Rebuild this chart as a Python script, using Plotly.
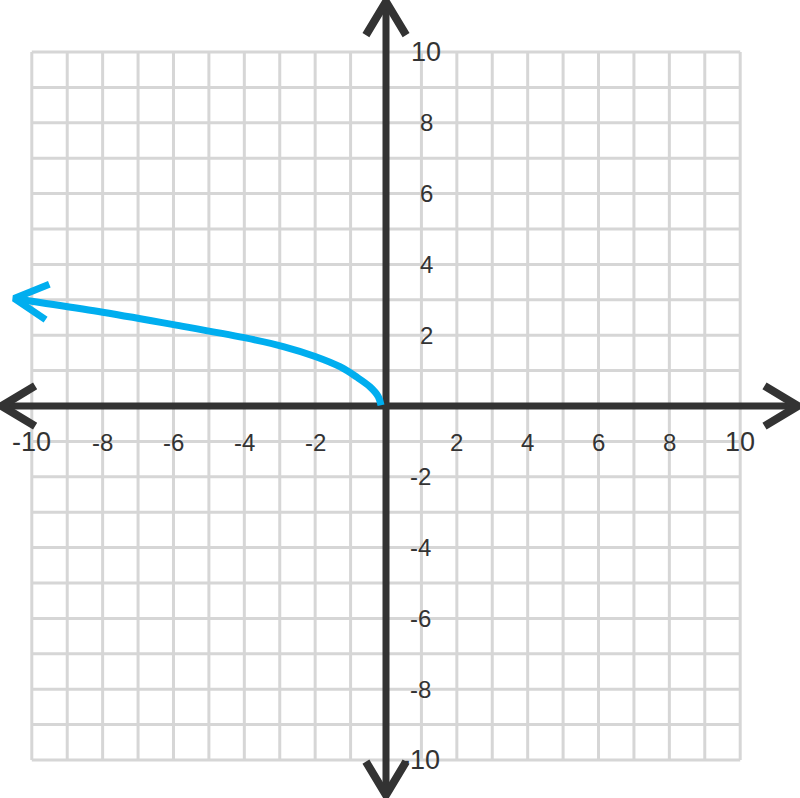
import math
import plotly.graph_objects as go

# grid / tick values
grid_ticks = [-10, -9, -8, -7, -6, -5, -4, -3, -2, -1, 0, 1, 2, 3, 4, 5, 6, 7, 8, 9, 10]
label_ticks = [-10, -8, -6, -4, -2, 2, 4, 6, 8, 10]
tick_text = ["-10", "-8", "-6", "-4", "-2", "2", "4", "6", "8", "10"]

# blue curve (ends in an arrow at the left)
curve_x = [-0.14, -0.22, -0.45, -0.83, -1.30, -2.0, -2.9, -4.0, -6.0, -8.0, -10.0, -10.5]
curve_y = [0.02, 0.27, 0.54, 0.82, 1.11, 1.40, 1.68, 1.93, 2.30, 2.65, 2.96, 3.04]

# axis arrow tips
x_axis_ends = [-10.85, 11.63]
y_axis_ends = [-10.99, 11.42]

W, H = 800, 798
PX_X = 35.42   # pixels per unit
PX_Y = 35.4
X0, Y0 = 386, 406  # pixel position of the origin

GRID = "#d6d6d6"
AXIS = "#333333"
BLUE = "#00aeef"


def chevron(tx, ty, back_deg, length=39, half=31):
    # back_deg: direction (screen, degrees, y down) pointing from tip back along the line
    xs, ys = [], []
    for a in (back_deg - half, None, back_deg + half):
        if a is None:
            xs.append(tx)
            ys.append(ty)
            continue
        r = math.radians(a)
        xs.append(tx + length * math.cos(r) / PX_X)
        ys.append(ty - length * math.sin(r) / PX_Y)
    return xs, ys


fig = go.Figure()

shapes = []
for t in grid_ticks:
    shapes.append(dict(type="line", x0=t, x1=t, y0=-10, y1=10, layer="below",
                       line=dict(color=GRID, width=3)))
    shapes.append(dict(type="line", x0=-10, x1=10, y0=t, y1=t, layer="below",
                       line=dict(color=GRID, width=3)))

# axes
fig.add_trace(go.Scatter(x=x_axis_ends, y=[0, 0], mode="lines",
                         line=dict(color=AXIS, width=7), hoverinfo="skip"))
fig.add_trace(go.Scatter(x=[0, 0], y=y_axis_ends, mode="lines",
                         line=dict(color=AXIS, width=7), hoverinfo="skip"))
for tx, ty, ang in [(x_axis_ends[1], 0, 180), (x_axis_ends[0], 0, 0),
                    (0, y_axis_ends[1], 90), (0, y_axis_ends[0], -90)]:
    ax, ay = chevron(tx, ty, ang)
    fig.add_trace(go.Scatter(x=ax, y=ay, mode="lines",
                             line=dict(color=AXIS, width=8), hoverinfo="skip"))

# curve
fig.add_trace(go.Scatter(x=curve_x, y=curve_y, mode="lines", line_shape="spline",
                         line=dict(color=BLUE, width=7), hoverinfo="skip"))
bx, by = chevron(curve_x[-1], curve_y[-1], 6, length=38, half=28)
fig.add_trace(go.Scatter(x=bx, y=by, mode="lines",
                         line=dict(color=BLUE, width=7), hoverinfo="skip"))

annotations = []
for t, txt in zip(label_ticks, tick_text):
    size = 27 if abs(t) == 10 else 24
    annotations.append(dict(x=t, y=0, text=txt, showarrow=False, yshift=-36,
                            xanchor="center", yanchor="middle",
                            font=dict(size=size, color=AXIS, family="Liberation Sans")))
    annotations.append(dict(x=0, y=t, text=txt, showarrow=False,
                            xshift=40 if t > 0 else 34,
                            xanchor="center", yanchor="middle",
                            font=dict(size=size, color=AXIS, family="Liberation Sans")))

fig.update_layout(
    width=W, height=H,
    margin=dict(l=0, r=0, t=0, b=0),
    paper_bgcolor="white", plot_bgcolor="white",
    showlegend=False,
    shapes=shapes,
    annotations=annotations,
    xaxis=dict(range=[-X0 / PX_X, (W - X0) / PX_X], visible=False, fixedrange=True),
    yaxis=dict(range=[-(H - Y0) / PX_Y, Y0 / PX_Y], visible=False, fixedrange=True),
)

fig.write_html("out.html", config={"displayModeBar": False},
               post_script="document.body.style.margin='0';")
